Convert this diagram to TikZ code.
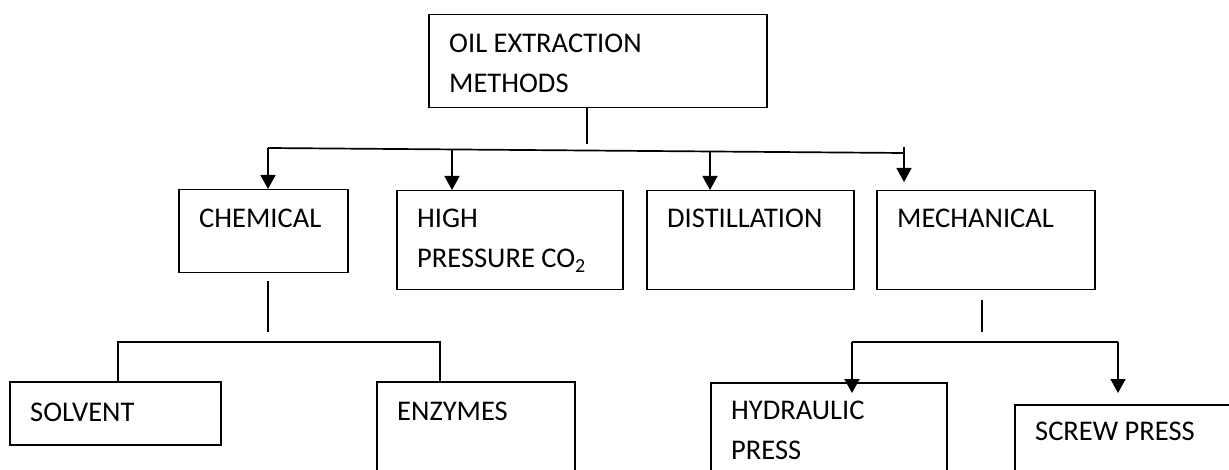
\documentclass[tikz,border=0pt]{standalone}
\usepackage{fontspec}
\setmainfont{Carlito}
\usepackage{tikz}
\usetikzlibrary{arrows.meta, positioning, calc}
\tikzset{
	methbox/.style 2 args={draw, line width=1.5pt, minimum width=#1pt, minimum height=#2pt, inner sep=0pt, anchor=north west},
	methlbl/.style={anchor=base west, align=left, inner sep=0pt, font=\fontsize{28.5}{40}\selectfont},
	wire/.style={line width=1.7pt},
}

\begin{document}
\begin{tikzpicture}[
		x=1pt, y=-1pt,
		>={Triangle[width=15pt, length=14pt]}
	]
		\useasboundingbox (0,0) rectangle (1229,470);

		% Root (base of a two line label is its last line)
		\node[methbox={338}{93}] (oil) at (428,14) {};
		\node[methlbl] (oilT) at ([shift={(21,79)}]oil.north west) {OIL EXTRACTION\\METHODS};

		% Methods
		\node[methbox={169}{83}] (chem) at (178,189) {};
		\node[methlbl] (chemT) at ([shift={(21,39)}]chem.north west) {CHEMICAL};
		\node[methbox={226}{99}] (high) at (396,190) {};
		\node[methlbl] (highT) at ([shift={(21,78)}]high.north west) {HIGH\\PRESSURE CO\textsubscript{2}};
		\node[methbox={207}{99}] (dist) at (646,190) {};
		\node[methlbl] (distT) at ([shift={(21,38)}]dist.north west) {DISTILLATION};
		\node[methbox={218}{99}] (mech) at (876,190) {};
		\node[methlbl] (mechT) at ([shift={(21,38)}]mech.north west) {MECHANICAL};

		% Sub methods
		\node[methbox={211}{63}] (solv) at (9,381) {};
		\node[methlbl] (solvT) at ([shift={(21,40)}]solv.north west) {SOLVENT};
		\node[methbox={198}{100}] (enz) at (376,381) {};
		\node[methlbl] (enzT) at ([shift={(21,39)}]enz.north west) {ENZYMES};
		\node[methbox={236}{100}] (hyd) at (710,382) {};
		\node[methlbl] (hydT) at ([shift={(21,77)}]hyd.north west) {HYDRAULIC\\PRESS};
		\node[methbox={230}{80}] (scr) at (1014,404) {};
		\node[methlbl] (scrT) at ([shift={(21,36)}]scr.north west) {SCREW PRESS};

		% Root to methods
		\draw[wire] ([xshift=-11pt]oil.south) -- ++(0,36);
		\coordinate (barL) at (268,148);
		\coordinate (barR) at (904,153);
		\coordinate (bHigh) at (452,149.5);
		\coordinate (bDist) at (710,151.5);
		\coordinate (bMech) at (904,147);
		\draw[wire] (barL) -- (barR);
		\draw[wire, ->] (barL) -- (barL |- chem.north);
		\draw[wire, ->] (bHigh) -- (bHigh |- high.north);
		\draw[wire, ->] (bDist) -- (bDist |- dist.north);
		\draw[wire, ->] (bMech) -- ([yshift=8pt]bMech |- mech.north);

		% Chemical branch
		\coordinate (chemS) at (268,281);
		\coordinate (chemL) at (118,342);
		\coordinate (chemR) at (440,342);
		\draw[wire] (chemS) -- ++(0,51);
		\draw[wire] (solv.north -| chemL) -- (chemL) -- (chemR) -- (enz.north -| chemR);

		% Mechanical branch
		\coordinate (mechS) at (982,300);
		\coordinate (mechL) at (852,342);
		\coordinate (mechR) at (1118,342);
		\draw[wire] (mechS) -- ++(0,32);
		\draw[wire] (mechL) -- (mechR);
		\draw[wire, ->] (mechL) -- ([yshift=-11pt]mechL |- hyd.north);
		\draw[wire, ->] (mechR) -- ([yshift=11pt]mechR |- scr.north);
	\end{tikzpicture}
\end{document}
